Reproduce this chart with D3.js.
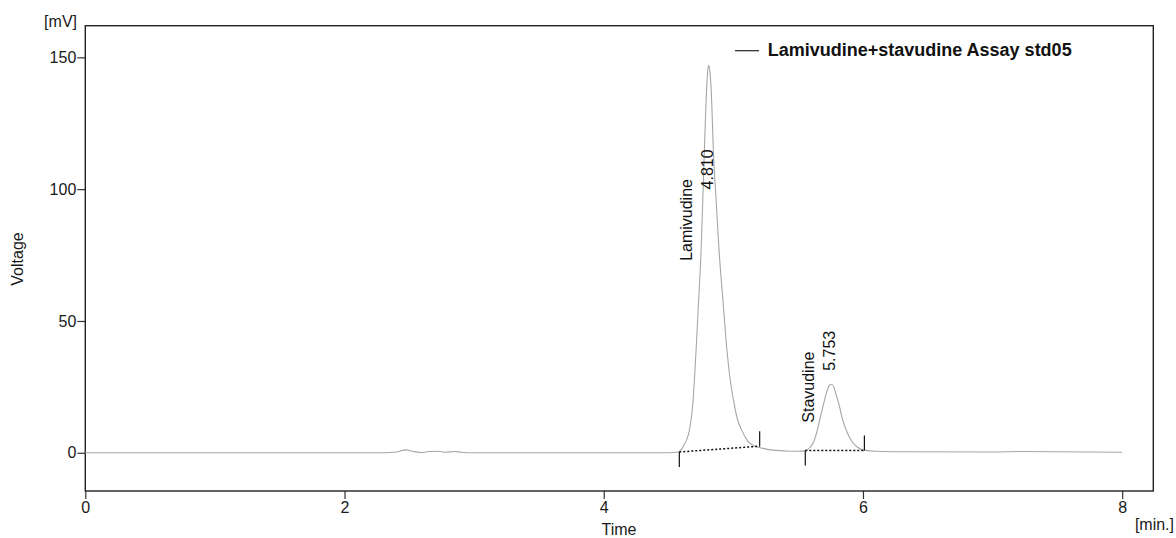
<!DOCTYPE html>
<html>
<head>
<meta charset="utf-8">
<script src="https://cdn.jsdelivr.net/npm/d3@7"></script>
<style>
  html, body { margin: 0; padding: 0; background: #fff; }
  svg { display: block; font-family: "Liberation Sans", Arial, sans-serif; }
</style>
</head>
<body>
<svg id="chart" width="1176" height="538"></svg>
<script>
// ---- Data ----
const times = [0, 1.4, 2.3, 2.40, 2.47, 2.53, 2.60, 2.65, 2.72, 2.78, 2.85, 2.90, 3.0, 4.0, 4.5,
  4.578, 4.600, 4.617, 4.640, 4.660, 4.675, 4.689, 4.700, 4.712, 4.732, 4.751, 4.776, 4.790, 4.800, 4.809,
  4.820, 4.830, 4.846, 4.868, 4.890, 4.920, 4.951, 4.975, 5.002, 5.030, 5.067, 5.110, 5.157, 5.201, 5.285,
  5.400, 5.500, 5.554, 5.590, 5.620, 5.645, 5.666, 5.697, 5.720, 5.740, 5.756, 5.775, 5.790, 5.813, 5.844,
  5.880, 5.916, 5.960, 6.011, 6.100, 6.300, 7.000, 7.200, 8.000];
const voltages = [0, 0, 0, 0.3, 1.1, 0.5, 0.1, 0.5, 0.6, 0.2, 0.5, 0.2, 0, 0, 0,
  0.3, 1.4, 2.7, 5.0, 8.3, 13.0, 19.7, 28.0, 38.6, 57.6, 76.5, 114.4, 134.0, 143.5, 147.0,
  144.0, 136.5, 114.4, 95.0, 76.5, 57.6, 38.6, 28.0, 19.7, 13.0, 8.3, 4.5, 2.65, 2.0, 1.1,
  0.7, 0.6, 0.8, 2.0, 4.2, 8.0, 12.4, 18.7, 23.0, 25.5, 26.0, 25.0, 22.5, 18.7, 12.4,
  7.5, 4.2, 2.0, 1.0, 0.6, 0.4, 0.3, 0.5, 0.2];

// integration baselines
const baselineStart = [4.583, 5.555];
const baselineStartVal = [0.3, 0.9];
const baselineEnd = [5.203, 6.011];
const baselineEndVal = [2.5, 0.9];

// peak annotations
const peakNames = ["Lamivudine", "Stavudine"];
const peakTimes = [4.810, 5.753];
const peakLabels = ["4.810", "5.753"];
const nameLabelAt = [72.8, 11.4];   // mV where name label starts
const timeLabelAt = [99.9, 31.1];   // mV where retention-time label starts

const xTicks = [0, 2, 4, 6, 8];
const yTicks = [0, 50, 100, 150];
const seriesName = "Lamivudine+stavudine Assay std05";

// ---- Layout ----
const svg = d3.select("#chart");
const pLeft = 85.3, pRight = 1153.3, pTop = 25.7, pBottom = 491;
const x = d3.scaleLinear().domain([0, 8.24]).range([pLeft, pRight]);
const y = d3.scaleLinear().domain([-14.5, 162]).range([pBottom, pTop]);

svg.append("rect").attr("width", 1176).attr("height", 538).attr("fill", "#fff");

// Axes
const xAxis = d3.axisBottom(x).tickValues(xTicks).tickSize(8).tickPadding(3).tickFormat(d3.format("d"));
const gx = svg.append("g").attr("transform", `translate(0,${pBottom})`).call(xAxis);
const yAxis = d3.axisLeft(y).tickValues(yTicks).tickSize(8).tickPadding(1).tickFormat(d3.format("d"));
const gy = svg.append("g").attr("transform", `translate(${pLeft},0)`).call(yAxis);
[gx, gy].forEach(g => {
  g.select(".domain").remove();
  g.selectAll(".tick line").attr("stroke", "#333").attr("stroke-width", 1.2);
  g.selectAll(".tick text").attr("fill", "#1a1a1a").style("font-size", "16px")
    .style("font-family", "'Liberation Sans', Arial, sans-serif");
});

// Frame
svg.append("rect").attr("x", pLeft).attr("y", pTop)
  .attr("width", pRight - pLeft).attr("height", pBottom - pTop)
  .attr("fill", "none").attr("stroke", "#222").attr("stroke-width", 1.4);

// Chromatogram line
const line = d3.line().x((d, i) => x(times[i])).y((d, i) => y(voltages[i])).curve(d3.curveMonotoneX);
svg.append("path").datum(times).attr("d", line)
  .attr("fill", "none").attr("stroke", "#a6a6a6").attr("stroke-width", 1.1);

// Integration baselines (dotted) and markers
baselineStart.forEach((t0, i) => {
  const x0 = x(t0), y0 = y(baselineStartVal[i]);
  const x1 = x(baselineEnd[i]), y1 = y(baselineEndVal[i]);
  svg.append("line").attr("x1", x0).attr("y1", y0).attr("x2", x1).attr("y2", y1)
    .attr("stroke", "#111").attr("stroke-width", 1.5).attr("stroke-dasharray", "2,2");
  svg.append("line").attr("x1", x0).attr("y1", y0).attr("x2", x0).attr("y2", y0 + 15)
    .attr("stroke", "#111").attr("stroke-width", 1.2);
  svg.append("line").attr("x1", x1).attr("y1", y1).attr("x2", x1).attr("y2", y1 - 15)
    .attr("stroke", "#111").attr("stroke-width", 1.2);
});

// Peak labels (rotated)
peakTimes.forEach((t, i) => {
  const px = x(t);
  svg.append("text")
    .attr("transform", `translate(${px - 16.7},${y(nameLabelAt[i])}) rotate(-90)`)
    .attr("fill", "#111").style("font-size", "16px").text(peakNames[i]);
  svg.append("text")
    .attr("transform", `translate(${px + 4},${y(timeLabelAt[i])}) rotate(-90)`)
    .attr("fill", "#111").style("font-size", "16px").text(peakLabels[i]);
});

// Axis titles
svg.append("text").attr("x", 77).attr("y", 26.5).attr("text-anchor", "end")
  .attr("fill", "#1a1a1a").style("font-size", "16px").text("[mV]");
svg.append("text").attr("transform", "translate(22.5,259) rotate(-90)").attr("text-anchor", "middle")
  .attr("fill", "#1a1a1a").style("font-size", "16px").text("Voltage");
svg.append("text").attr("x", 619).attr("y", 535).attr("text-anchor", "middle")
  .attr("fill", "#1a1a1a").style("font-size", "16px").text("Time");
svg.append("text").attr("x", 1174).attr("y", 530).attr("text-anchor", "end")
  .attr("fill", "#1a1a1a").style("font-size", "16px").text("[min.]");

// Legend
svg.append("line").attr("x1", 735).attr("x2", 759).attr("y1", 50.7).attr("y2", 50.7)
  .attr("stroke", "#222").attr("stroke-width", 1.2);
svg.append("text").attr("x", 767.7).attr("y", 55.5)
  .attr("fill", "#111").style("font-size", "18px").style("font-weight", "bold").text(seriesName);
</script>
</body>
</html>
